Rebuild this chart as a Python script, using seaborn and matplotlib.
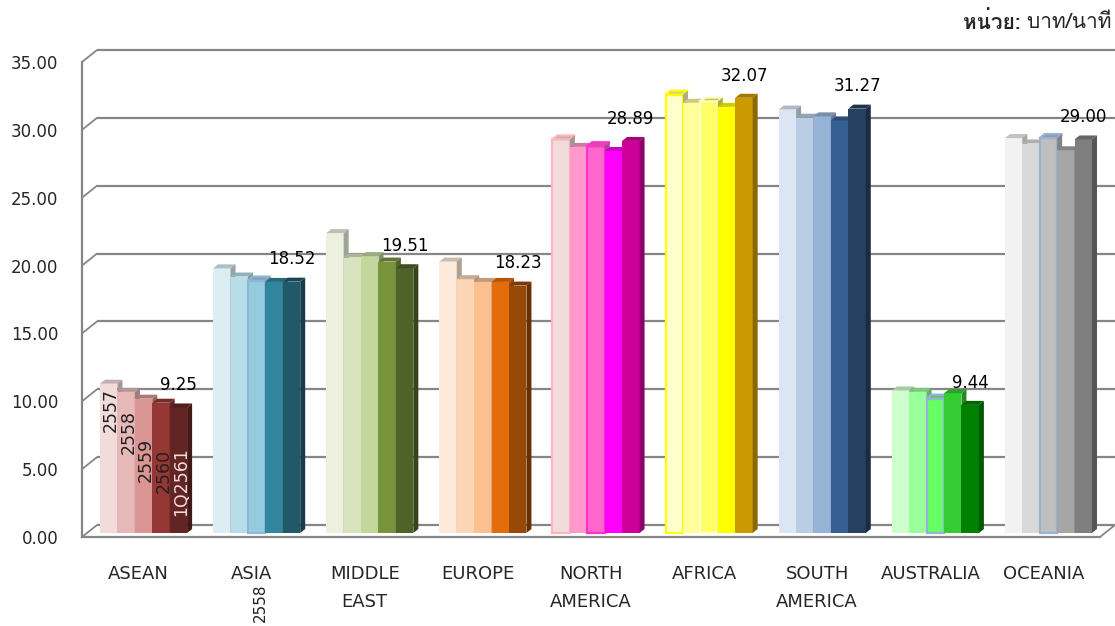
import numpy as np
import pandas as pd
import matplotlib
matplotlib.use("Agg")
import matplotlib.pyplot as plt
import matplotlib.colors as mcolors
from matplotlib import font_manager, ft2font
from matplotlib.patches import Polygon
import seaborn as sns

# ---------------------------------------------------------------- data
regions = ["ASEAN", "ASIA", "MIDDLE\nEAST", "EUROPE", "NORTH\nAMERICA",
           "AFRICA", "SOUTH\nAMERICA", "AUSTRALIA", "OCEANIA"]
years = ["2557", "2558", "2559", "2560", "1Q2561"]

rate_2557 = [11.0, 19.5, 22.1, 20.0, 29.0, 32.3, 31.2, 10.5, 29.1]
rate_2558 = [10.4, 18.9, 20.3, 18.7, 28.45, 31.7, 30.6, 10.4, 28.7]
rate_2559 = [9.9, 18.6, 20.4, 18.5, 28.5, 31.8, 30.7, 9.9, 29.1]
rate_2560 = [9.6, 18.5, 20.0, 18.5, 28.15, 31.4, 30.4, 10.3, 28.2]
rate_1q2561 = [9.25, 18.52, 19.51, 18.23, 28.89, 32.07, 31.27, 9.44, 29.00]

y_ticks = [0, 5, 10, 15, 20, 25, 30, 35]
unit_bold = "หน่วย:"
unit_text = " บาท/นาที"

# one colour ramp per region (light -> dark across the five periods)
palettes = [
    ["#F2DCDB", "#E6B9B8", "#D99694", "#953735", "#632523"],
    ["#DBEEF4", "#B7DEE8", "#93CDDD", "#31859C", "#215968"],
    ["#EBF1DE", "#D7E4BD", "#C3D69B", "#77933C", "#4F6228"],
    ["#FDEADA", "#FCD5B5", "#FAC090", "#E46C0A", "#984807"],
    ["#F2DCDB", "#FF99CC", "#FF66CC", "#FF00FF", "#CC0099"],
    ["#FFFFCC", "#FFFF99", "#FFFF66", "#FFFF00", "#CC9900"],
    ["#DCE6F2", "#B9CDE5", "#95B3D7", "#376092", "#254061"],
    ["#CCFFCC", "#99FF99", "#66FF66", "#33CC33", "#008000"],
    ["#F2F2F2", "#D9D9D9", "#BFBFBF", "#A6A6A6", "#7F7F7F"],
]
# a few bars carry an outline: (region index, period index) -> colour
outlines = {(1, 2): "#95B3D7", (4, 0): "#FFB6C1", (4, 2): "#FF33CC",
            (5, 0): "#FFFF00", (5, 2): "#FFFFCC", (7, 2): "#95B3D7",
            (8, 2): "#95B3D7"}

series = [rate_2557, rate_2558, rate_2559, rate_2560, rate_1q2561]
df = pd.DataFrame({
    "region": regions * len(years),
    "year": [y for y in years for _ in regions],
    "value": [v for s in series for v in s],
})


def thai_family():
    """First installed family that can render Thai script."""
    for f in font_manager.fontManager.ttflist:
        try:
            cmap = ft2font.FT2Font(f.fname).get_charmap()
        except Exception:
            continue
        if 0x0E2B in cmap and 0x0E19 in cmap and 0x0E32 in cmap:
            return f.name
    return "DejaVu Sans"


# ---------------------------------------------------------------- style
sns.set_style("white")
plt.rcParams["font.family"] = ["DejaVu Sans"]
GRID = "#868686"

W, H, DPI = 1115, 626, 100
fig = plt.figure(figsize=(W / DPI, H / DPI), dpi=DPI)
# axes = front plane of the 3-D box
ax_l, ax_r, ax_t, ax_b = 82, 1100, 62, 537
ax = fig.add_axes([ax_l / W, (H - ax_b) / H, (ax_r - ax_l) / W, (ax_b - ax_t) / H])
ax.set_xlim(-0.5, len(regions) - 0.5)
ax.set_ylim(0, 35)

px_x = (ax_r - ax_l) / len(regions)   # pixels per x unit
px_y = (ax_b - ax_t) / 35.0           # pixels per y unit


def dx(p):
    return p / px_x


def dy(p):
    return p / px_y


sns.barplot(data=df, x="region", y="value", hue="year", order=regions,
            hue_order=years, width=0.77, dodge=True, saturation=1,
            legend=False, ax=ax)

# bars stand in the middle of the box depth; give each a top and side face
shift_x, shift_y = dx(5), dy(4)
depth_x, depth_y = dx(5), dy(4)
for j, cont in enumerate(ax.containers):
    for i, bar in enumerate(cont):
        col = palettes[i][j]
        rgb = np.array(mcolors.to_rgb(col))
        x0 = bar.get_x() + shift_x
        w = bar.get_width()
        h = bar.get_height()
        bar.set_x(x0)
        bar.set_y(shift_y)
        bar.set_facecolor(col)
        ec = outlines.get((i, j))
        z = 3 + j * 0.1
        bar.set_zorder(z)
        if ec:
            bar.set_edgecolor(ec)
            bar.set_linewidth(1.6)
        else:
            bar.set_edgecolor("none")
        top = Polygon([(x0, h + shift_y), (x0 + w, h + shift_y),
                       (x0 + w + depth_x, h + shift_y + depth_y),
                       (x0 + depth_x, h + shift_y + depth_y)],
                      closed=True, facecolor=rgb * 0.8,
                      edgecolor=ec if ec else "none",
                      linewidth=1.6 if ec else 0, zorder=z, clip_on=False)
        side = Polygon([(x0 + w, shift_y), (x0 + w, h + shift_y),
                        (x0 + w + depth_x, h + shift_y + depth_y),
                        (x0 + w + depth_x, shift_y + depth_y)],
                       closed=True, facecolor=rgb * 0.68,
                       edgecolor="none", zorder=z, clip_on=False)
        ax.add_patch(top)
        ax.add_patch(side)

# value labels above the latest-period bar of every region
last = ax.containers[-1]
for i, bar in enumerate(last):
    v = rate_1q2561[i]
    ax.annotate(f"{v:.2f}", (bar.get_x() + bar.get_width() / 2,
                             bar.get_y() + bar.get_height()),
                xytext=(0, 16), textcoords="offset points",
                ha="center", va="center", fontsize=12, color="black",
                zorder=10, annotation_clip=False)

# period names written up the ASEAN bars
name_y = [9.1, 7.45, 5.4, 4.55, 3.8]
for j, cont in enumerate(ax.containers):
    bar = cont[0]
    ax.text(bar.get_x() + bar.get_width() / 2 + dx(2.5), name_y[j] + shift_y,
            years[j], rotation=90, ha="center", va="center", fontsize=12.5,
            color="#F2DCDB" if j == 4 else "#202020", zorder=10)
# a stray period name under ASIA
bar = ax.containers[2][1]
ax.text(bar.get_x() + bar.get_width() / 2 + dx(4), -dy(66), years[1],
        rotation=90, ha="center", va="center", fontsize=11,
        color="#202020", clip_on=False)

# back wall gridlines and their links to the front axis
back_x, back_y = dx(15), dy(12)
xl, xr = -0.5, len(regions) - 0.5
for t in y_ticks:
    ax.plot([xl + back_x, xr + back_x], [t + back_y, t + back_y], color=GRID,
            lw=1.6, zorder=1, clip_on=False, solid_capstyle="butt")
    ax.plot([xl, xl + back_x], [t, t + back_y], color=GRID, lw=1.3,
            zorder=1, clip_on=False)
ax.plot([xr, xr + back_x], [0, back_y], color=GRID, lw=1.3, zorder=2,
        clip_on=False)

# axes, ticks and labels
for s in ["top", "right"]:
    ax.spines[s].set_visible(False)
for s in ["left", "bottom"]:
    ax.spines[s].set_color(GRID)
    ax.spines[s].set_linewidth(1.6)
    ax.spines[s].set_zorder(8)
ax.set_yticks(y_ticks)
ax.set_yticklabels([f"{t:.2f}" for t in y_ticks], fontsize=12)
ax.tick_params(axis="y", length=6, width=1.5, color=GRID, pad=11)
ax.set_xticks(range(len(regions)))
ax.set_xticklabels(regions, fontsize=13, linespacing=1.7)
ax.tick_params(axis="x", which="major", length=0, pad=20)
ax.set_xticks(np.arange(len(regions) + 1) - 0.5, minor=True)
ax.tick_params(axis="x", which="minor", length=6, width=1.5, color=GRID)
for lab in ax.get_xticklabels():
    lab.set_verticalalignment("top")
ax.set_xlabel("")
ax.set_ylabel("")
ax.grid(False)

# unit note, top right
tf = thai_family()
t2 = fig.text(1112 / W, 1 - 22 / H, unit_text, ha="right", va="center",
              fontsize=15, family=[tf, "DejaVu Sans"])
fig.canvas.draw()
bb = t2.get_window_extent()
fig.text(bb.x0 / W, 1 - 22 / H, unit_bold, ha="right", va="center",
         fontsize=15, fontweight="bold", family=[tf, "DejaVu Sans"])

fig.savefig("out.png", dpi=DPI)
